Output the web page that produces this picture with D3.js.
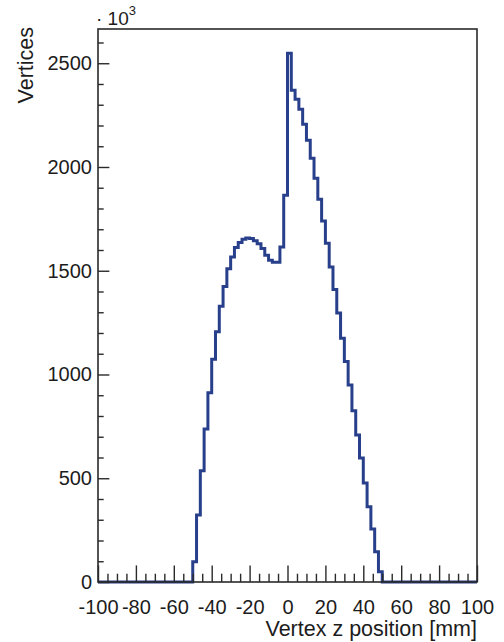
<!DOCTYPE html>
<html>
<head>
<meta charset="utf-8">
<script src="https://cdn.jsdelivr.net/npm/d3@7"></script>
<style>
  html, body { margin: 0; padding: 0; background: #fff; }
  svg { display: block; }
  text { font-family: "Liberation Sans", Arial, Helvetica, sans-serif; fill: #1c1c1c; }
</style>
</head>
<body>
<svg id="chart" width="504" height="642"></svg>
<script>
// ---- data (bin width 2 mm, from -100 to 100 mm) ----
const binLowEdges = [
  -100,-98,-96,-94,-92,-90,-88,-86,-84,-82,-80,-78,-76,-74,-72,-70,-68,-66,-64,-62,-60,-58,-56,-54,-52,
  -50,-48,-46,-44,-42,-40,-38,-36,-34,-32,-30,-28,-26,-24,-22,-20,-18,-16,-14,-12,-10,-8,-6,-4,-2,
  0,2,4,6,8,10,12,14,16,18,20,22,24,26,28,30,32,34,36,38,40,42,44,46,48,
  50,52,54,56,58,60,62,64,66,68,70,72,74,76,78,80,82,84,86,88,90,92,94,96,98
];
const vertices = [
  0,0,0,0,0,0,0,0,0,0,0,0,0,0,0,0,0,0,0,0,0,0,0,0,0,
  98,323,536,737,912,1074,1206,1329,1424,1510,1566,1612,1636,1652,1658,1655,1645,1630,1607,1575,1551,1541,1541,1614,1864,
  2548,2370,2327,2278,2206,2129,2042,1946,1845,1740,1633,1518,1410,1296,1175,1063,949,825,708,597,477,363,255,146,50,
  0,0,0,0,0,0,0,0,0,0,0,0,0,0,0,0,0,0,0,0,0,0,0,0,0
];
const xRange = [-100, 100];
const yMax = 2665;
const xMajorTicks = [-100,-80,-60,-40,-20,0,20,40,60,80,100];
const xMinorTicks = [-95,-90,-85,-75,-70,-65,-55,-50,-45,-35,-30,-25,-15,-10,-5,5,10,15,25,30,35,45,50,55,65,70,75,85,90,95];
const yMajorTicks = [0,500,1000,1500,2000,2500];
const yMinorTicks = [100,200,300,400,600,700,800,900,1100,1200,1300,1400,1600,1700,1800,1900,2100,2200,2300,2400,2600];
const xTitle = "Vertex z position [mm]";
const yTitle = "Vertices";

// ---- layout ----
const L = 98, R = 477, T = 29, B = 582;
const svg = d3.select("#chart");
const x = d3.scaleLinear().domain(xRange).range([L, R]);
const y = d3.scaleLinear().domain([0, yMax]).range([B, T]);

const axisColor = "#2a2a2a";
const histColor = "#283f8b";

// histogram
const pts = binLowEdges.map((e, i) => [e, vertices[i]]);
pts.push([xRange[1], vertices[vertices.length - 1]]);
const line = d3.line().x(d => x(d[0])).y(d => y(d[1])).curve(d3.curveStepAfter);
svg.append("path")
  .attr("d", line(pts))
  .attr("fill", "none")
  .attr("stroke", histColor)
  .attr("stroke-width", 3)
  .attr("stroke-linejoin", "miter");

// frame
svg.append("rect")
  .attr("x", L).attr("y", T).attr("width", R - L).attr("height", B - T)
  .attr("fill", "none").attr("stroke", axisColor).attr("stroke-width", 1.6);

const xTickLen = 0.03 * (B - T);
const yTickLen = 0.03 * (R - L);

// x axis
const gx = svg.append("g").attr("transform", `translate(0,${B})`);
gx.call(d3.axisBottom(x).tickValues(xMajorTicks).tickSize(-xTickLen).tickPadding(18).tickFormat(d => String(d)));
const gxm = svg.append("g").attr("transform", `translate(0,${B})`);
gxm.call(d3.axisBottom(x).tickValues(xMinorTicks).tickSize(-xTickLen / 2).tickFormat(""));

// y axis
const gy = svg.append("g").attr("transform", `translate(${L},0)`);
gy.call(d3.axisLeft(y).tickValues(yMajorTicks).tickSize(-yTickLen).tickPadding(6).tickFormat(d => String(d)));
const gym = svg.append("g").attr("transform", `translate(${L},0)`);
gym.call(d3.axisLeft(y).tickValues(yMinorTicks).tickSize(-yTickLen / 2).tickFormat(""));

[gx, gxm, gy, gym].forEach(g => {
  g.select(".domain").remove();
  g.selectAll(".tick line").attr("stroke", axisColor).attr("stroke-width", 1.4);
  g.selectAll(".tick text").attr("font-size", 20).attr("fill", "#1c1c1c")
    .attr("font-family", "Liberation Sans, Arial, Helvetica, sans-serif");
});

// axis titles
svg.append("text")
  .attr("x", R).attr("y", 636)
  .attr("text-anchor", "end")
  .attr("font-size", 21.5)
  .text(xTitle);

svg.append("text")
  .attr("transform", `translate(33,${T - 2}) rotate(-90)`)
  .attr("text-anchor", "end")
  .attr("font-size", 21.5)
  .text(yTitle);

// exponent label
const ex = svg.append("text").attr("x", 96).attr("y", 25).attr("font-size", 19);
ex.append("tspan").text("\u00B7 10");
ex.append("tspan").attr("font-size", 13).attr("dy", -10).text("3");
</script>
</body>
</html>
